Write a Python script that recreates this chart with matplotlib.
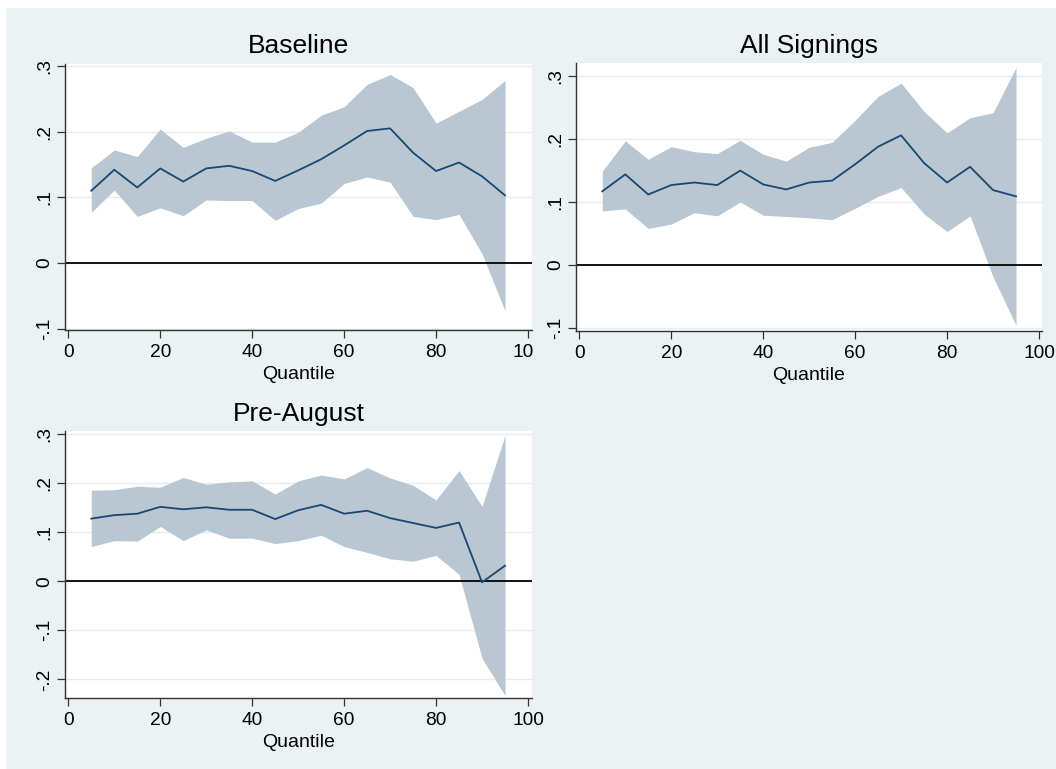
import matplotlib.pyplot as plt
from matplotlib.patches import Rectangle
from matplotlib.transforms import Bbox, TransformedBbox

plt.rcParams["font.family"] = ["Liberation Sans", "DejaVu Sans"]

# quantile regression coefficients with 95% bands
quantile = [5, 10, 15, 20, 25, 30, 35, 40, 45, 50, 55, 60, 65, 70, 75, 80, 85, 90, 95]

base_coef = [0.110, 0.142, 0.115, 0.144, 0.124, 0.144, 0.148, 0.140, 0.125, 0.141,
             0.158, 0.179, 0.201, 0.205, 0.168, 0.140, 0.153, 0.132, 0.103]
base_hi = [0.145, 0.172, 0.162, 0.204, 0.176, 0.190, 0.201, 0.184, 0.184, 0.199,
           0.225, 0.238, 0.272, 0.287, 0.267, 0.213, 0.231, 0.249, 0.278]
base_lo = [0.077, 0.111, 0.071, 0.084, 0.072, 0.096, 0.095, 0.095, 0.065, 0.083,
           0.091, 0.121, 0.131, 0.123, 0.071, 0.066, 0.074, 0.014, -0.073]

all_coef = [0.117, 0.144, 0.112, 0.127, 0.131, 0.127, 0.150, 0.128, 0.120, 0.131,
            0.134, 0.160, 0.188, 0.206, 0.162, 0.131, 0.156, 0.119, 0.109]
all_hi = [0.149, 0.197, 0.168, 0.188, 0.180, 0.177, 0.198, 0.176, 0.165, 0.187,
          0.195, 0.230, 0.268, 0.289, 0.244, 0.210, 0.234, 0.242, 0.314]
all_lo = [0.086, 0.089, 0.058, 0.065, 0.083, 0.078, 0.100, 0.079, 0.077, 0.075,
          0.072, 0.090, 0.109, 0.123, 0.081, 0.053, 0.078, -0.019, -0.096]

pre_coef = [0.128, 0.135, 0.138, 0.152, 0.147, 0.151, 0.146, 0.146, 0.127, 0.145,
            0.156, 0.138, 0.144, 0.129, 0.119, 0.109, 0.120, -0.002, 0.032]
pre_hi = [0.186, 0.187, 0.194, 0.192, 0.212, 0.198, 0.203, 0.205, 0.178, 0.205,
          0.217, 0.209, 0.232, 0.211, 0.196, 0.166, 0.226, 0.153, 0.298]
pre_lo = [0.071, 0.083, 0.082, 0.112, 0.083, 0.105, 0.088, 0.088, 0.077, 0.083,
          0.094, 0.071, 0.059, 0.046, 0.041, 0.053, 0.014, -0.157, -0.233]

xticks = [0, 20, 40, 60, 80, 100]
yticks_top = [-0.1, 0, 0.1, 0.2, 0.3]
ylabels_top = ["-.1", "0", ".1", ".2", ".3"]
yticks_pre = [-0.2, -0.1, 0, 0.1, 0.2, 0.3]
ylabels_pre = ["-.2", "-.1", "0", ".1", ".2", ".3"]

W, H = 1056, 769
BG = "#eaf2f3"
FILL = "#b9c7d3"
LINE = "#1a476f"
AXC = "#333333"

fig = plt.figure(figsize=(W / 100, H / 100), dpi=100, facecolor="white")
fig.patches.append(Rectangle((6 / W, 0), 1 - 6 / W, 1 - 8 / H, transform=fig.transFigure,
                             facecolor=BG, edgecolor="none", zorder=-5))


def panel(x0, y0, x1, y1, xlim, ylim, coef, lo, hi, yt, ylab, title, title_base):
    ax = fig.add_axes([x0 / W, 1 - y1 / H, (x1 - x0) / W, (y1 - y0) / H])
    ax.set_facecolor("white")
    ax.fill_between(quantile, lo, hi, color=FILL, lw=0, zorder=1)
    ax.axhline(0, color="black", lw=1.3, zorder=2)
    ax.plot(quantile, coef, color=LINE, lw=1.3, zorder=3)
    ax.set_xlim(*xlim)
    ax.set_ylim(*ylim)
    ax.set_xticks(xticks)
    ax.set_xticklabels([str(t) for t in xticks])
    ax.set_yticks(yt)
    ax.set_yticklabels(ylab, rotation=90, va="center")
    ax.yaxis.grid(True, color="#e3edf0", lw=1.0)
    ax.set_axisbelow(True)
    for s in ["top", "right"]:
        ax.spines[s].set_visible(False)
    for s in ["left", "bottom"]:
        ax.spines[s].set_color(AXC)
        ax.spines[s].set_linewidth(1.0)
    ax.tick_params(length=5.5, width=0.9, color=AXC, labelsize=13.8)
    ax.tick_params(axis="x", pad=4.5)
    ax.tick_params(axis="y", pad=3)
    cx = (x0 + x1) / 2 / W
    fig.text(cx, 1 - title_base / H, title, ha="center", va="baseline", fontsize=19)
    fig.text(cx, 1 - (y1 + 49) / H, "Quantile", ha="center", va="baseline", fontsize=14)
    return ax


ax1 = panel(65, 64, 532, 330, (-0.72, 100.87), (-0.102, 0.303),
            base_coef, base_lo, base_hi, yticks_top, ylabels_top, "Baseline", 53)
ax2 = panel(576, 63, 1042, 331, (-0.72, 100.65), (-0.105, 0.321),
            all_coef, all_lo, all_hi, yticks_top, ylabels_top, "All Signings", 53)
ax3 = panel(65, 431, 532, 698, (-0.72, 100.87), (-0.238, 0.3067),
            pre_coef, pre_lo, pre_hi, yticks_pre, ylabels_pre, "Pre-August", 421.5)

# the right panel covers the end of the first panel's "100" label
clip = TransformedBbox(Bbox([[0, 0], [533 / W, 1]]), fig.transFigure)
for t in ax1.xaxis.get_major_ticks():
    t.label1.set_clip_box(clip)
    t.label1.set_clip_on(True)

fig.savefig("out.png", dpi=100, facecolor="white")
